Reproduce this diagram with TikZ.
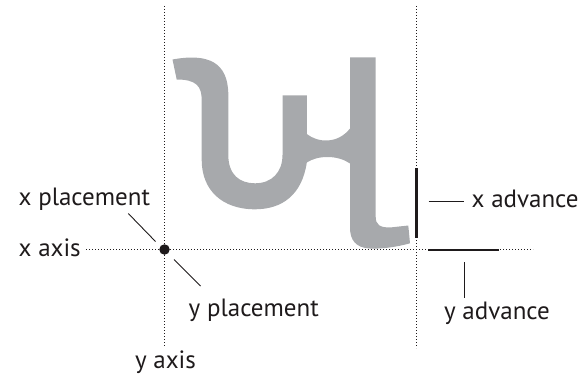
\documentclass[tikz,border=0pt]{standalone}
\usepackage{fontspec}
\setmainfont{PT Sans}
\definecolor{ink}{HTML}{1E1A1B}
\definecolor{glyphgray}{HTML}{A7A9AC}
\begin{document}
\begin{tikzpicture}[x=1pt,y=-1pt,
  dotline/.style={draw=ink,line width=1.5pt,dash pattern=on 1.3pt off 1.7pt},
  leader/.style={draw=ink,line width=0.9pt},
  bar/.style={draw=ink,line width=2.6pt},
  lbl/.style={inner sep=0pt,text=ink,font=\fontsize{25}{30}\selectfont}]
\useasboundingbox (0,0) rectangle (585,377);
% glyph
\fill[glyphgray] (172.5,59.5) .. controls (208,53) and (228.3,62) .. (228.3,95)
  -- (228.3,155) .. controls (228.3,175) and (240,183.3) .. (255,183.3)
  .. controls (272,183.3) and (282.5,172) .. (282.5,155)
  -- (282.5,95.5) -- (306.8,95.5) -- (306.8,134)
  .. controls (318,143) and (338,144) .. (350,128.5)
  -- (350,57.3) -- (375.7,57.3) -- (375.7,216.7)
  .. controls (375.7,225) and (380,227.5) .. (390,227.5)
  -- (408.3,225.5) -- (410,243.3)
  .. controls (395,247.5) and (380,249) .. (370,248.5)
  .. controls (356,248) and (350,240) .. (350,228)
  -- (350,163.5) .. controls (338,155) and (318,155) .. (306.8,162.5)
  .. controls (302,195) and (282,209.3) .. (255,209.3)
  .. controls (222,209.3) and (201.7,190) .. (201.7,160)
  -- (201.7,100) .. controls (201.7,86) and (196,79.5) .. (176.7,79.5) -- cycle;
% axes
\coordinate (v1t) at (164.5,6);
\coordinate (v1b) at (164.5,346);
\coordinate (v2t) at (416.7,6);
\coordinate (v2b) at (416.7,348);
\coordinate (hl) at (86,249.5);
\coordinate (hr) at (533,249.5);
\draw[dotline] (v1t) -- (v1b);
\draw[dotline] (v2t) -- (v2b);
\draw[dotline] (hl) -- (hr);
\node[circle,fill=ink,inner sep=0pt,minimum size=10.5pt] (origin) at (164.5,249.5) {};
% advance bars
\coordinate (xat) at (416.7,168);
\coordinate (xab) at (416.7,238);
\coordinate (yal) at (428,249.8);
\coordinate (yar) at (499,249.8);
\draw[bar] (xat) -- (xab);
\draw[bar] (yal) -- (yar);
% labels
\node[lbl,anchor=base west] (xpl) at (18.5,205) {x placement};
\node[lbl,anchor=base west] (xax) at (18.5,256.5) {x axis};
\node[lbl,anchor=base west] (ypl) at (188.5,316.5) {y placement};
\node[lbl,anchor=base] (yax) at (165.5,368) {y axis};
\node[lbl,anchor=base west] (xad) at (471.5,207.5) {x advance};
\node[lbl,anchor=base] (yad) at (497,319) {y advance};
% leaders
\coordinate (l1a) at (128.3,213.5);
\coordinate (l1b) at (155.5,241.5);
\coordinate (l2a) at (174,259.5);
\coordinate (l2b) at (200.5,286);
\coordinate (l3a) at (428.5,201.5);
\coordinate (l3b) at (463.5,201.5);
\coordinate (l4a) at (464.3,262);
\coordinate (l4b) at (464.3,298);
\draw[leader] (l1a) -- (l1b);
\draw[leader] (l2a) -- (l2b);
\draw[leader] (l3a) -- (l3b);
\draw[leader] (l4a) -- (l4b);
\end{tikzpicture}
\end{document}
